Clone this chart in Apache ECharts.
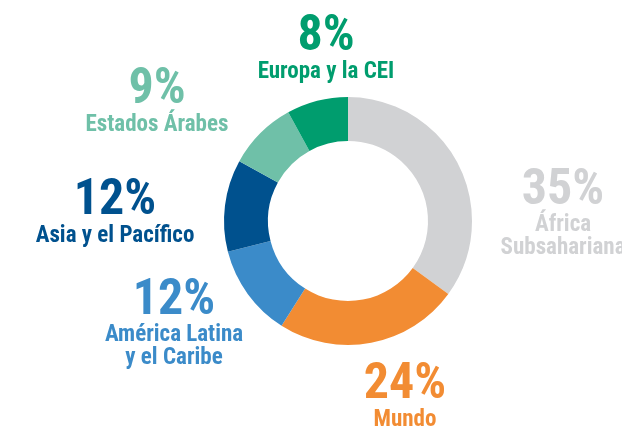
<!DOCTYPE html>
<html>
<head>
<meta charset="utf-8">
<script src="https://cdn.jsdelivr.net/npm/echarts@6/dist/echarts.min.js"></script>
<style>
  html, body { margin: 0; padding: 0; background: #fff; }
  #chart { width: 622px; height: 426px; }
</style>
</head>
<body>
<div id="chart"></div>
<script>
// regions, clockwise from the top
var regions = ['África\nSubsahariana', 'Mundo', 'América Latina\ny el Caribe', 'Asia y el Pacífico', 'Estados Árabes', 'Europa y la CEI'];
var shares = [35, 24, 12, 12, 9, 8];
var colors = ['#d1d2d4', '#f28c33', '#3b8bc9', '#00518e', '#6fc0a8', '#009d6e'];
// where each label block sits (centre, px)
var labelSpots = [[563, 214], [405, 397], [174, 324], [115, 213], [157, 102], [326, 49]];

var FONT = '"Roboto Condensed", "DejaVu Sans Condensed", sans-serif';
var chart = echarts.init(document.getElementById('chart'));

function labelText(name, value) {
  var lines = name.split('\n').map(function (s) { return '{n|' + s + '}'; });
  return '{p|' + value + '%}\n' + lines.join('\n');
}

chart.setOption({
  animation: false,
  series: [{
    type: 'pie',
    center: [348, 221],
    radius: [80, 124],
    startAngle: 90,
    clockwise: true,
    silent: true,
    data: regions.map(function (r, i) {
      return {
        name: r,
        value: shares[i],
        itemStyle: { color: colors[i] },
        label: { color: colors[i] }
      };
    }),
    label: {
      show: true,
      position: 'outside',
      overflow: 'none',
      fontFamily: FONT,
      fontWeight: 'bold',
      align: 'center',
      formatter: function (p) { return labelText(p.name, p.value); },
      rich: {
        p: { fontSize: 50, fontWeight: 'bold', lineHeight: 46, align: 'center', fontFamily: FONT },
        n: { fontSize: 23, fontWeight: 'bold', lineHeight: 23, align: 'center', fontFamily: FONT }
      }
    },
    labelLine: { show: false },
    labelLayout: function (params) {
      var s = labelSpots[params.dataIndex];
      return { x: s[0], y: s[1], align: 'center', verticalAlign: 'middle' };
    }
  }]
});
</script>
</body>
</html>
